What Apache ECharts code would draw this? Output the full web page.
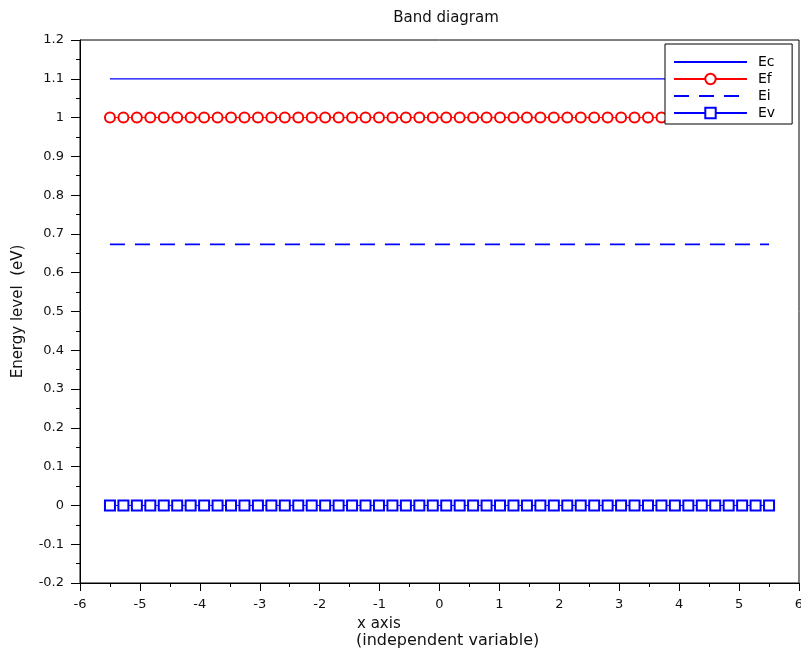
<!DOCTYPE html>
<html>
<head>
<meta charset="utf-8">
<script src="https://cdn.jsdelivr.net/npm/echarts@6/dist/echarts.min.js"></script>
<style>
html,body{margin:0;padding:0;background:#fff;}
#chart{width:801px;height:653px;}
</style>
</head>
<body>
<div id="chart"></div>
<script>
// ---- data ----
var xValues = [-5.5, -5.2755, -5.051, -4.8265, -4.602, -4.3776, -4.1531, -3.9286, -3.7041, -3.4796,
  -3.2551, -3.0306, -2.8061, -2.5816, -2.3571, -2.1327, -1.9082, -1.6837, -1.4592, -1.2347,
  -1.0102, -0.7857, -0.5612, -0.3367, -0.1122, 0.1122, 0.3367, 0.5612, 0.7857, 1.0102,
  1.2347, 1.4592, 1.6837, 1.9082, 2.1327, 2.3571, 2.5816, 2.8061, 3.0306, 3.2551,
  3.4796, 3.7041, 3.9286, 4.1531, 4.3776, 4.602, 4.8265, 5.051, 5.2755, 5.5];
var ecValues = [1.1,1.1,1.1,1.1,1.1,1.1,1.1,1.1,1.1,1.1, 1.1,1.1,1.1,1.1,1.1,1.1,1.1,1.1,1.1,1.1,
  1.1,1.1,1.1,1.1,1.1,1.1,1.1,1.1,1.1,1.1, 1.1,1.1,1.1,1.1,1.1,1.1,1.1,1.1,1.1,1.1,
  1.1,1.1,1.1,1.1,1.1,1.1,1.1,1.1,1.1,1.1];
var efValues = [1,1,1,1,1,1,1,1,1,1, 1,1,1,1,1,1,1,1,1,1, 1,1,1,1,1,1,1,1,1,1,
  1,1,1,1,1,1,1,1,1,1, 1,1,1,1,1,1,1,1,1,1];
var eiValues = [0.673,0.673,0.673,0.673,0.673,0.673,0.673,0.673,0.673,0.673,
  0.673,0.673,0.673,0.673,0.673,0.673,0.673,0.673,0.673,0.673,
  0.673,0.673,0.673,0.673,0.673,0.673,0.673,0.673,0.673,0.673,
  0.673,0.673,0.673,0.673,0.673,0.673,0.673,0.673,0.673,0.673,
  0.673,0.673,0.673,0.673,0.673,0.673,0.673,0.673,0.673,0.673];
var evValues = [0,0,0,0,0,0,0,0,0,0, 0,0,0,0,0,0,0,0,0,0, 0,0,0,0,0,0,0,0,0,0,
  0,0,0,0,0,0,0,0,0,0, 0,0,0,0,0,0,0,0,0,0];
var seriesNames = ['Ec', 'Ef', 'Ei', 'Ev'];
var titleText = 'Band diagram';
var xAxisName = ['x axis', '(independent variable)'];
var yAxisName = 'Energy level  (eV)';

function pairs(ys) {
  return xValues.map(function (x, i) { return [x, ys[i]]; });
}

var FONT = 'DejaVu Sans';
var chart = echarts.init(document.getElementById('chart'), null, { renderer: 'canvas' });
chart.setOption({
  animation: false,
  backgroundColor: '#fff',
  title: {
    text: titleText,
    left: 441,
    top: 6,
    textAlign: 'center',
    textStyle: { fontFamily: FONT, fontSize: 15, fontWeight: 'normal', color: '#111' }
  },
  grid: {
    left: 80, right: 2, top: 40, bottom: 70,
    outerBoundsMode: 'none',
    containLabel: false,
    show: true, borderColor: '#000', borderWidth: 1, backgroundColor: 'transparent'
  },
  legend: {
    data: [
      { name: seriesNames[0], itemStyle: { opacity: 0 } },
      { name: seriesNames[1] },
      { name: seriesNames[2], itemStyle: { opacity: 0 } },
      { name: seriesNames[3] }
    ],
    orient: 'vertical',
    left: 665,
    top: 44,
    padding: [11, 17, 4, 8],
    itemWidth: 73,
    itemHeight: 13,
    itemGap: 3,
    backgroundColor: '#fff',
    borderColor: '#000',
    borderWidth: 1,
    borderRadius: 0,
    textStyle: { fontFamily: FONT, fontSize: 14, color: '#000', lineHeight: 13, padding: [0, 0, 0, 6] }
  },
  xAxis: {
    type: 'value',
    min: -6, max: 6, interval: 1,
    axisLine: { show: true, onZero: false, lineStyle: { color: '#000', width: 1 } },
    axisTick: { show: true, length: 8, lineStyle: { color: '#000' } },
    minorTick: { show: true, splitNumber: 2, length: 4, lineStyle: { color: '#000' } },
    splitLine: { show: false },
    axisLabel: { color: '#111', fontFamily: FONT, fontSize: 13, margin: 15 }
  },
  yAxis: {
    type: 'value',
    min: -0.2, max: 1.2, interval: 0.1,
    name: yAxisName,
    nameLocation: 'middle',
    nameGap: 54,
    nameTextStyle: { color: '#111', fontFamily: FONT, fontSize: 15 },
    axisLine: { show: true, onZero: false, lineStyle: { color: '#000', width: 1 } },
    axisTick: { show: true, length: 9, lineStyle: { color: '#000' } },
    minorTick: { show: true, splitNumber: 2, length: 4, lineStyle: { color: '#000' } },
    splitLine: { show: false },
    axisLabel: { color: '#111', fontFamily: FONT, fontSize: 13, margin: 16 }
  },
  graphic: [
    { type: 'text', left: 357, top: 617, style: { text: xAxisName[0], fill: '#111', font: '15px "DejaVu Sans"' } },
    { type: 'text', left: 356, top: 633, style: { text: xAxisName[1], fill: '#111', font: '16px "DejaVu Sans"' } }
  ],
  series: [
    {
      name: seriesNames[0], type: 'line', data: pairs(ecValues),
      showSymbol: false, symbol: 'none',
      lineStyle: { color: '#0000ff', width: 1.2 }, itemStyle: { color: '#0000ff' },
      emphasis: { disabled: true }
    },
    {
      name: seriesNames[1], type: 'line', data: pairs(efValues),
      symbol: 'emptyCircle', symbolSize: 10, showAllSymbol: true,
      lineStyle: { color: '#ff0000', width: 1 },
      itemStyle: { color: '#ff0000', borderColor: '#ff0000', borderWidth: 1.6 },
      emphasis: { disabled: true }
    },
    {
      name: seriesNames[2], type: 'line', data: pairs(eiValues),
      showSymbol: false, symbol: 'none',
      lineStyle: { color: '#0000ff', width: 1.6, type: [15, 10] }, itemStyle: { color: '#0000ff' },
      emphasis: { disabled: true }
    },
    {
      name: seriesNames[3], type: 'line', data: pairs(evValues),
      symbol: 'emptyRect', symbolSize: 10, showAllSymbol: true,
      lineStyle: { color: '#0000ff', width: 1 },
      itemStyle: { color: '#0000ff', borderColor: '#0000ff', borderWidth: 1.6 },
      emphasis: { disabled: true }
    }
  ]
});
</script>
</body>
</html>
